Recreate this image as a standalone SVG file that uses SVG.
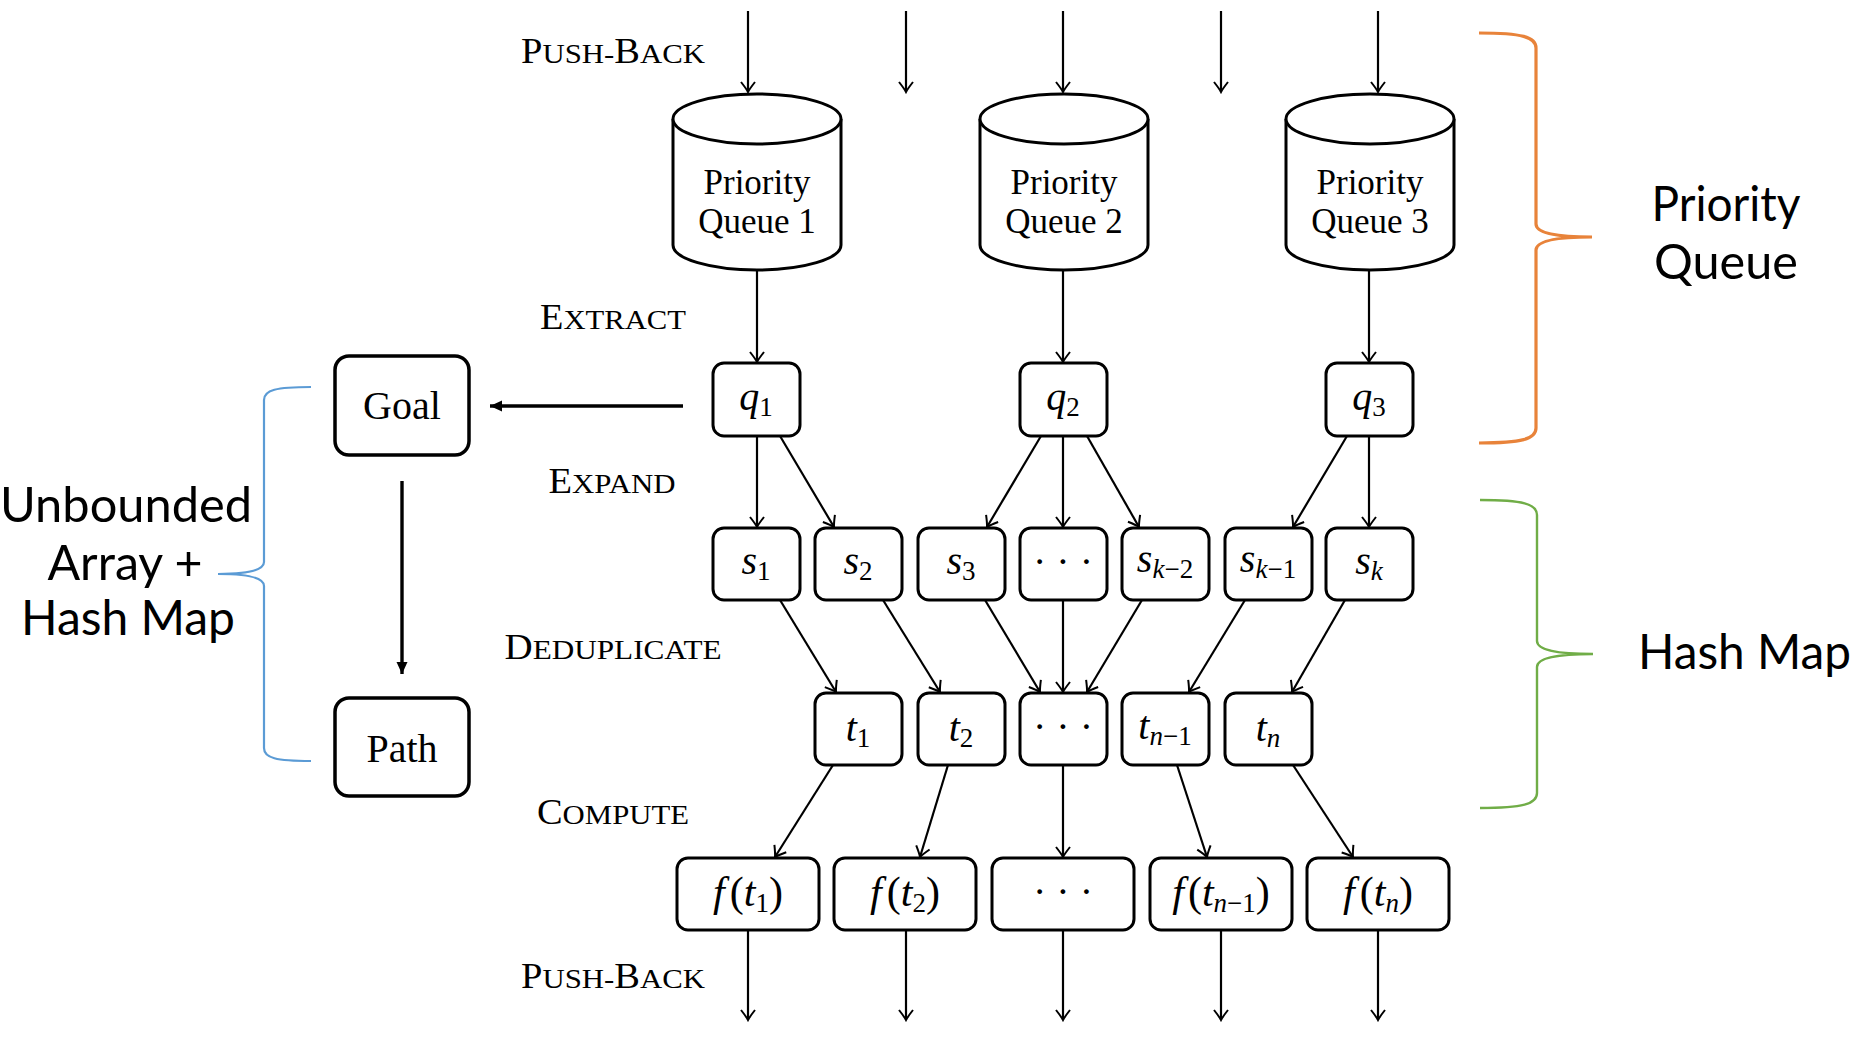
<svg xmlns="http://www.w3.org/2000/svg" width="1862" height="1052" viewBox="0 0 1862 1052">
<style>
.box{fill:#fff;stroke:#000;stroke-width:3}
.big{fill:#fff;stroke:#000;stroke-width:3.5}
.cyl{fill:#fff;stroke:#000;stroke-width:3}
.c{fill:none;stroke:#000;stroke-width:2.2;marker-end:url(#ah)}
.ct{fill:none;stroke:#000;stroke-width:3.4;marker-end:url(#fh)}
.serif{font-family:"Liberation Serif","Times New Roman",serif;fill:#000}
.lbl{font-size:35px}
.sc{font-family:"Liberation Serif","Times New Roman",serif;font-size:28px;fill:#000}
.scb{font-size:35px}
.m{font-family:"Liberation Serif","Times New Roman",serif;font-size:40px;fill:#000}
.mf{font-size:42px}
.i{font-style:italic}
.sub{font-size:27px}
.sans{font-family:Lato,"Open Sans","Noto Sans",sans-serif;font-size:48px;fill:#000}
.dots{font-family:"Liberation Serif","Times New Roman",serif;font-size:40px;fill:#000}
</style>
<defs>
<marker id="ah" markerUnits="userSpaceOnUse" viewBox="-13 -9 15 18" markerWidth="15" markerHeight="18" refX="0" refY="0" orient="auto">
<path d="M-10,-7 Q-3,-1.5 0,0 Q-3,1.5 -10,7" fill="none" stroke="#000" stroke-width="2"/>
</marker>
<marker id="fh" markerUnits="userSpaceOnUse" viewBox="-14 -7 15 14" markerWidth="15" markerHeight="14" refX="0" refY="0" orient="auto">
<path d="M-12,-5.5 L0,0 L-12,5.5 Z" fill="#000"/>
</marker>
</defs>
<rect width="1862" height="1052" fill="#fff"/>

<g id="connectors">
<line class="c" x1="748" y1="11" x2="748" y2="92"/>
<line class="c" x1="906" y1="11" x2="906" y2="92"/>
<line class="c" x1="1063" y1="11" x2="1063" y2="92"/>
<line class="c" x1="1221" y1="11" x2="1221" y2="92"/>
<line class="c" x1="1378" y1="11" x2="1378" y2="92"/>
<line class="c" x1="757" y1="270" x2="757" y2="362"/>
<line class="c" x1="1063" y1="270" x2="1063" y2="362"/>
<line class="c" x1="1369" y1="270" x2="1369" y2="362"/>
<line class="c" x1="757" y1="436" x2="757" y2="527"/>
<line class="c" x1="780" y1="436" x2="834" y2="527"/>
<line class="c" x1="1041" y1="436" x2="987" y2="527"/>
<line class="c" x1="1063" y1="436" x2="1063" y2="527"/>
<line class="c" x1="1087" y1="436" x2="1139" y2="527"/>
<line class="c" x1="1347" y1="436" x2="1293" y2="527"/>
<line class="c" x1="1369" y1="436" x2="1369" y2="527"/>
<line class="c" x1="780" y1="600" x2="836" y2="692"/>
<line class="c" x1="883" y1="600" x2="940" y2="692"/>
<line class="c" x1="985" y1="600" x2="1040" y2="692"/>
<line class="c" x1="1063" y1="600" x2="1063" y2="692"/>
<line class="c" x1="1142" y1="600" x2="1087" y2="692"/>
<line class="c" x1="1245" y1="600" x2="1189" y2="692"/>
<line class="c" x1="1345" y1="600" x2="1292" y2="692"/>
<line class="c" x1="833" y1="765" x2="775" y2="857"/>
<line class="c" x1="948" y1="765" x2="920" y2="857"/>
<line class="c" x1="1063" y1="765" x2="1063" y2="857"/>
<line class="c" x1="1177" y1="765" x2="1207" y2="857"/>
<line class="c" x1="1293" y1="765" x2="1353" y2="857"/>
<line class="c" x1="748" y1="930" x2="748" y2="1020"/>
<line class="c" x1="906" y1="930" x2="906" y2="1020"/>
<line class="c" x1="1063" y1="930" x2="1063" y2="1020"/>
<line class="c" x1="1221" y1="930" x2="1221" y2="1020"/>
<line class="c" x1="1378" y1="930" x2="1378" y2="1020"/>
<line class="ct" x1="683" y1="406" x2="490" y2="406"/>
<line class="ct" x1="402" y1="481" x2="402" y2="674"/>
</g>

<g id="stage-labels">
<text class="sc" x="613" y="63" text-anchor="middle" textLength="184" lengthAdjust="spacingAndGlyphs"><tspan class="scb">P</tspan>USH-<tspan class="scb">B</tspan>ACK</text>
<text class="sc" x="613" y="329" text-anchor="middle" textLength="146" lengthAdjust="spacingAndGlyphs"><tspan class="scb">E</tspan>XTRACT</text>
<text class="sc" x="612" y="493" text-anchor="middle" textLength="127" lengthAdjust="spacingAndGlyphs"><tspan class="scb">E</tspan>XPAND</text>
<text class="sc" x="613" y="659" text-anchor="middle" textLength="217" lengthAdjust="spacingAndGlyphs"><tspan class="scb">D</tspan>EDUPLICATE</text>
<text class="sc" x="613" y="824" text-anchor="middle" textLength="152" lengthAdjust="spacingAndGlyphs"><tspan class="scb">C</tspan>OMPUTE</text>
<text class="sc" x="613" y="988" text-anchor="middle" textLength="184" lengthAdjust="spacingAndGlyphs"><tspan class="scb">P</tspan>USH-<tspan class="scb">B</tspan>ACK</text>
</g>

<g id="pq1">
<path class="cyl" d="M673,119 L673,245 A84,25 0 0 0 841,245 L841,119"/>
<ellipse class="cyl" cx="757" cy="119" rx="84" ry="25"/>
<text class="serif lbl" x="757" y="194" text-anchor="middle">Priority</text>
<text class="serif lbl" x="757" y="233" text-anchor="middle">Queue 1</text>
</g>
<g id="pq2">
<path class="cyl" d="M980,119 L980,245 A84,25 0 0 0 1148,245 L1148,119"/>
<ellipse class="cyl" cx="1064" cy="119" rx="84" ry="25"/>
<text class="serif lbl" x="1064" y="194" text-anchor="middle">Priority</text>
<text class="serif lbl" x="1064" y="233" text-anchor="middle">Queue 2</text>
</g>
<g id="pq3">
<path class="cyl" d="M1286,119 L1286,245 A84,25 0 0 0 1454,245 L1454,119"/>
<ellipse class="cyl" cx="1370" cy="119" rx="84" ry="25"/>
<text class="serif lbl" x="1370" y="194" text-anchor="middle">Priority</text>
<text class="serif lbl" x="1370" y="233" text-anchor="middle">Queue 3</text>
</g>

<g id="q1"><rect class="box" x="713" y="363" width="87" height="73" rx="11"/><text class="m" x="756" y="410" text-anchor="middle"><tspan class="i">q</tspan><tspan class="sub" dy="6">1</tspan></text></g>
<g id="q2"><rect class="box" x="1020" y="363" width="87" height="73" rx="11"/><text class="m" x="1063" y="410" text-anchor="middle"><tspan class="i">q</tspan><tspan class="sub" dy="6">2</tspan></text></g>
<g id="q3"><rect class="box" x="1326" y="363" width="87" height="73" rx="11"/><text class="m" x="1369" y="410" text-anchor="middle"><tspan class="i">q</tspan><tspan class="sub" dy="6">3</tspan></text></g>

<g id="s1"><rect class="box" x="713" y="528" width="87" height="72" rx="11"/><text class="m" x="756" y="574" text-anchor="middle"><tspan class="i">s</tspan><tspan class="sub" dy="6">1</tspan></text></g>
<g id="s2"><rect class="box" x="815" y="528" width="87" height="72" rx="11"/><text class="m" x="858" y="574" text-anchor="middle"><tspan class="i">s</tspan><tspan class="sub" dy="6">2</tspan></text></g>
<g id="s3"><rect class="box" x="918" y="528" width="87" height="72" rx="11"/><text class="m" x="961" y="574" text-anchor="middle"><tspan class="i">s</tspan><tspan class="sub" dy="6">3</tspan></text></g>
<g id="s-dots"><rect class="box" x="1020" y="528" width="87" height="72" rx="11"/><text class="dots" x="1063" y="575" text-anchor="middle">· · ·</text></g>
<g id="sk-2"><rect class="box" x="1122" y="528" width="87" height="72" rx="11"/><text class="m" x="1165" y="572" text-anchor="middle"><tspan class="i">s</tspan><tspan class="sub i" dy="6">k</tspan><tspan class="sub">−2</tspan></text></g>
<g id="sk-1"><rect class="box" x="1225" y="528" width="87" height="72" rx="11"/><text class="m" x="1268" y="572" text-anchor="middle"><tspan class="i">s</tspan><tspan class="sub i" dy="6">k</tspan><tspan class="sub">−1</tspan></text></g>
<g id="sk"><rect class="box" x="1326" y="528" width="87" height="72" rx="11"/><text class="m" x="1369" y="574" text-anchor="middle"><tspan class="i">s</tspan><tspan class="sub i" dy="6">k</tspan></text></g>

<g id="t1"><rect class="box" x="815" y="693" width="87" height="72" rx="11"/><text class="m" x="858" y="741" text-anchor="middle"><tspan class="i">t</tspan><tspan class="sub" dy="6">1</tspan></text></g>
<g id="t2"><rect class="box" x="918" y="693" width="87" height="72" rx="11"/><text class="m" x="961" y="741" text-anchor="middle"><tspan class="i">t</tspan><tspan class="sub" dy="6">2</tspan></text></g>
<g id="t-dots"><rect class="box" x="1020" y="693" width="87" height="72" rx="11"/><text class="dots" x="1063" y="740" text-anchor="middle">· · ·</text></g>
<g id="tn-1"><rect class="box" x="1122" y="693" width="87" height="72" rx="11"/><text class="m" x="1165" y="739" text-anchor="middle"><tspan class="i">t</tspan><tspan class="sub i" dy="6">n</tspan><tspan class="sub">−1</tspan></text></g>
<g id="tn"><rect class="box" x="1225" y="693" width="87" height="72" rx="11"/><text class="m" x="1268" y="741" text-anchor="middle"><tspan class="i">t</tspan><tspan class="sub i" dy="6">n</tspan></text></g>

<g id="ft1"><rect class="box" x="677" y="858" width="142" height="72" rx="11"/><text class="m mf" x="748" y="906" text-anchor="middle"><tspan class="i">f</tspan><tspan dx="5">(</tspan><tspan class="i">t</tspan><tspan class="sub" dy="6">1</tspan><tspan dy="-6">)</tspan></text></g>
<g id="ft2"><rect class="box" x="834" y="858" width="142" height="72" rx="11"/><text class="m mf" x="905" y="906" text-anchor="middle"><tspan class="i">f</tspan><tspan dx="5">(</tspan><tspan class="i">t</tspan><tspan class="sub" dy="6">2</tspan><tspan dy="-6">)</tspan></text></g>
<g id="f-dots"><rect class="box" x="992" y="858" width="142" height="72" rx="11"/><text class="dots" x="1063" y="905" text-anchor="middle">· · ·</text></g>
<g id="ftn-1"><rect class="box" x="1150" y="858" width="142" height="72" rx="11"/><text class="m mf" x="1221" y="906" text-anchor="middle"><tspan class="i">f</tspan><tspan dx="4">(</tspan><tspan class="i">t</tspan><tspan class="sub i" dy="6">n</tspan><tspan class="sub">−1</tspan><tspan dy="-6">)</tspan></text></g>
<g id="ftn"><rect class="box" x="1307" y="858" width="142" height="72" rx="11"/><text class="m mf" x="1378" y="906" text-anchor="middle"><tspan class="i">f</tspan><tspan dx="5">(</tspan><tspan class="i">t</tspan><tspan class="sub i" dy="6">n</tspan><tspan dy="-6">)</tspan></text></g>

<g id="goal"><rect class="big" x="335" y="356" width="134" height="99" rx="14"/><text class="serif" font-size="40" x="402" y="419" text-anchor="middle">Goal</text></g>
<g id="path"><rect class="big" x="335" y="698" width="134" height="98" rx="14"/><text class="serif" font-size="40" x="402" y="762" text-anchor="middle">Path</text></g>

<g id="brace-pq">
<path d="M1479,33 C1522,33 1536,37 1536,48 L1536,224 C1536,233 1556,237 1592,237 C1556,237 1536,241 1536,250 L1536,428 C1536,439 1522,443 1479,443" fill="none" stroke="#E8833A" stroke-width="3.2"/>
<text class="sans" x="1726" y="221" text-anchor="middle" textLength="149" lengthAdjust="spacingAndGlyphs">Priority</text>
<text class="sans" x="1726" y="279" text-anchor="middle" textLength="144" lengthAdjust="spacingAndGlyphs">Queue</text>
</g>
<g id="brace-hm">
<path d="M1480,500 C1523,500 1537,504 1537,515 L1537,641 C1537,650 1557,654 1593,654 C1557,654 1537,658 1537,667 L1537,793 C1537,804 1523,808 1480,808" fill="none" stroke="#70AD47" stroke-width="2.4"/>
<text class="sans" x="1638" y="669" textLength="213" lengthAdjust="spacingAndGlyphs">Hash Map</text>
</g>
<g id="brace-ua">
<path d="M311,387 C276,387 264,390 264,400 L264,562 C264,570 248,574 218,574 C248,574 264,578 264,586 L264,748 C264,758 276,761 311,761" fill="none" stroke="#5B9BD5" stroke-width="2.2"/>
<text class="sans" x="126" y="522" text-anchor="middle" textLength="252" lengthAdjust="spacingAndGlyphs">Unbounded</text>
<text class="sans" x="125" y="580" text-anchor="middle" textLength="155" lengthAdjust="spacingAndGlyphs">Array +</text>
<text class="sans" x="128" y="635" text-anchor="middle" textLength="214" lengthAdjust="spacingAndGlyphs">Hash Map</text>
</g>
</svg>
